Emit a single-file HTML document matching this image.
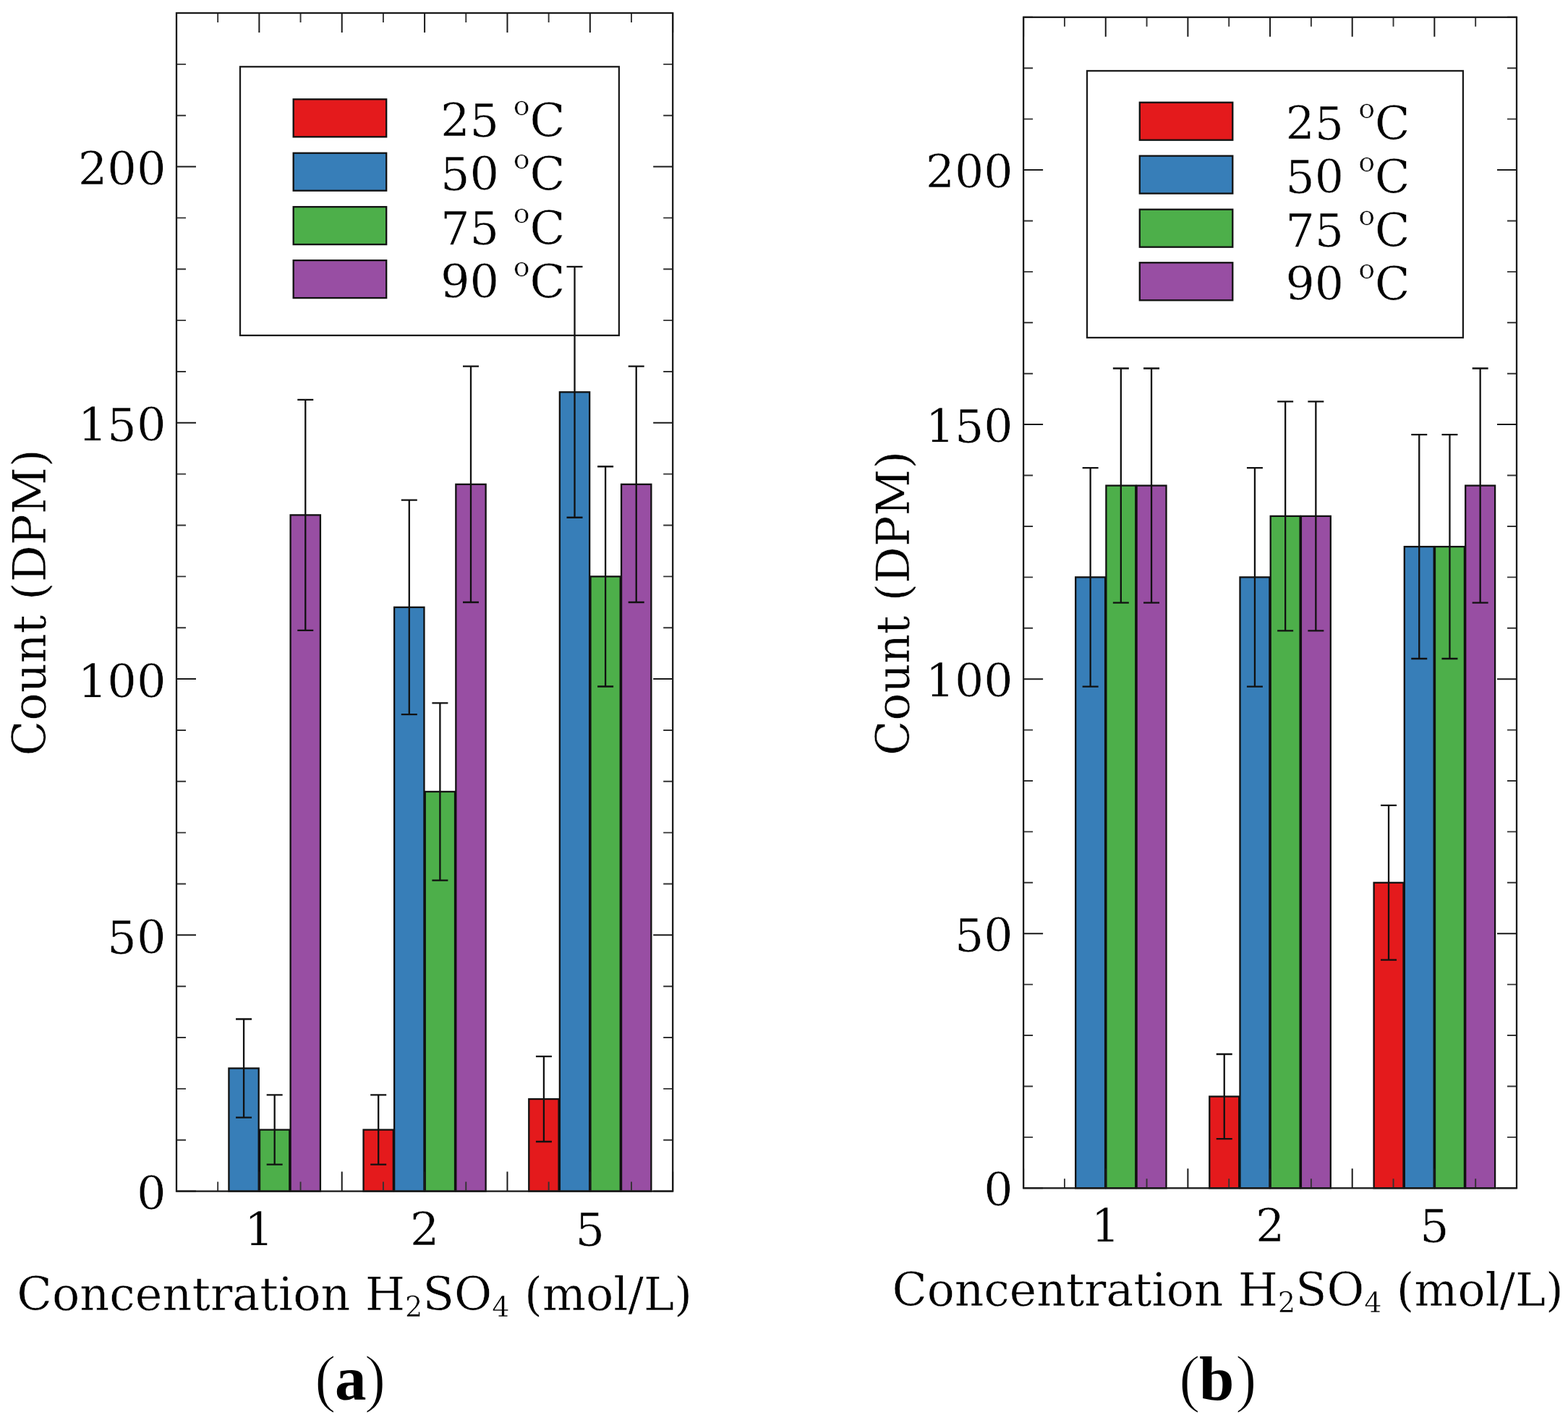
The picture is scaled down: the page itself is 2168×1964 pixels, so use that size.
<!DOCTYPE html>
<html><head><meta charset="utf-8"><title>Count (DPM) vs Concentration H2SO4</title>
<style>html,body{margin:0;padding:0;background:#fff;width:2168px;height:1964px;overflow:hidden}svg{display:block}</style>
</head><body>
<svg width="2168" height="1964" viewBox="0 0 2168 1964">
<rect width="2168" height="1964" fill="#fff"/>
<rect x="332.0" y="92.3" width="523.9" height="371.6" fill="#fff" stroke="#1a1a1a" stroke-width="2.3"/>
<rect x="405.7" y="137.3" width="128.5" height="52" fill="#e41a1c" stroke="#111" stroke-width="2.3"/>
<text x="608.9" y="188.80" font-family="DejaVu Serif, serif" stroke="#fff" stroke-width="0.5" font-size="63.8">25</text>
<text x="709.70" y="158.80" font-family="DejaVu Serif, serif" stroke="#fff" stroke-width="0.5" font-size="38">o</text>
<text x="732.40" y="188.80" font-family="DejaVu Serif, serif" stroke="#fff" stroke-width="0.5" font-size="63.8">C</text>
<rect x="405.7" y="211.7" width="128.5" height="52" fill="#377eb8" stroke="#111" stroke-width="2.3"/>
<text x="608.9" y="263.20" font-family="DejaVu Serif, serif" stroke="#fff" stroke-width="0.5" font-size="63.8">50</text>
<text x="709.70" y="233.20" font-family="DejaVu Serif, serif" stroke="#fff" stroke-width="0.5" font-size="38">o</text>
<text x="732.40" y="263.20" font-family="DejaVu Serif, serif" stroke="#fff" stroke-width="0.5" font-size="63.8">C</text>
<rect x="405.7" y="286.1" width="128.5" height="52" fill="#4daf4a" stroke="#111" stroke-width="2.3"/>
<text x="608.9" y="337.60" font-family="DejaVu Serif, serif" stroke="#fff" stroke-width="0.5" font-size="63.8">75</text>
<text x="709.70" y="307.60" font-family="DejaVu Serif, serif" stroke="#fff" stroke-width="0.5" font-size="38">o</text>
<text x="732.40" y="337.60" font-family="DejaVu Serif, serif" stroke="#fff" stroke-width="0.5" font-size="63.8">C</text>
<rect x="405.7" y="360.1" width="128.5" height="52" fill="#984ea3" stroke="#111" stroke-width="2.3"/>
<text x="608.9" y="411.60" font-family="DejaVu Serif, serif" stroke="#fff" stroke-width="0.5" font-size="63.8">90</text>
<text x="709.70" y="381.60" font-family="DejaVu Serif, serif" stroke="#fff" stroke-width="0.5" font-size="38">o</text>
<text x="732.40" y="411.60" font-family="DejaVu Serif, serif" stroke="#fff" stroke-width="0.5" font-size="63.8">C</text>
<rect x="316.42" y="1477.55" width="41.30" height="170.05" fill="#377eb8" stroke="#111" stroke-width="2.3"/>
<rect x="359.02" y="1562.58" width="41.30" height="85.02" fill="#4daf4a" stroke="#111" stroke-width="2.3"/>
<rect x="401.62" y="712.35" width="41.30" height="935.25" fill="#984ea3" stroke="#111" stroke-width="2.3"/>
<rect x="502.55" y="1562.58" width="41.30" height="85.02" fill="#e41a1c" stroke="#111" stroke-width="2.3"/>
<rect x="545.15" y="839.89" width="41.30" height="807.71" fill="#377eb8" stroke="#111" stroke-width="2.3"/>
<rect x="587.75" y="1094.95" width="41.30" height="552.65" fill="#4daf4a" stroke="#111" stroke-width="2.3"/>
<rect x="630.35" y="669.84" width="41.30" height="977.76" fill="#984ea3" stroke="#111" stroke-width="2.3"/>
<rect x="731.28" y="1520.07" width="41.30" height="127.53" fill="#e41a1c" stroke="#111" stroke-width="2.3"/>
<rect x="773.88" y="542.31" width="41.30" height="1105.29" fill="#377eb8" stroke="#111" stroke-width="2.3"/>
<rect x="816.48" y="797.37" width="41.30" height="850.23" fill="#4daf4a" stroke="#111" stroke-width="2.3"/>
<rect x="859.08" y="669.84" width="41.30" height="977.76" fill="#984ea3" stroke="#111" stroke-width="2.3"/>
<path d="M337.07 1409.52V1545.59M326.07 1409.52H348.07M326.07 1545.59H348.07" stroke="#111" stroke-width="2.3" fill="none"/>
<path d="M379.67 1514.47V1610.68M368.67 1514.47H390.67M368.67 1610.68H390.67" stroke="#111" stroke-width="2.3" fill="none"/>
<path d="M422.27 552.80V871.90M411.27 552.80H433.27M411.27 871.90H433.27" stroke="#111" stroke-width="2.3" fill="none"/>
<path d="M523.20 1514.47V1610.68M512.20 1514.47H534.20M512.20 1610.68H534.20" stroke="#111" stroke-width="2.3" fill="none"/>
<path d="M565.80 691.61V988.16M554.80 691.61H576.80M554.80 988.16H576.80" stroke="#111" stroke-width="2.3" fill="none"/>
<path d="M608.40 972.31V1217.60M597.40 972.31H619.40M597.40 1217.60H619.40" stroke="#111" stroke-width="2.3" fill="none"/>
<path d="M651.00 506.70V832.98M640.00 506.70H662.00M640.00 832.98H662.00" stroke="#111" stroke-width="2.3" fill="none"/>
<path d="M751.93 1461.15V1578.98M740.93 1461.15H762.93M740.93 1578.98H762.93" stroke="#111" stroke-width="2.3" fill="none"/>
<path d="M794.53 368.86V715.75M783.53 368.86H805.53M783.53 715.75H805.53" stroke="#111" stroke-width="2.3" fill="none"/>
<path d="M837.13 645.25V949.50M826.13 645.25H848.13M826.13 949.50H848.13" stroke="#111" stroke-width="2.3" fill="none"/>
<path d="M879.73 506.70V832.98M868.73 506.70H890.73M868.73 832.98H890.73" stroke="#111" stroke-width="2.3" fill="none"/>
<path d="M244.00 1647.60h27M930.20 1647.60h-27M244.00 1293.34h27M930.20 1293.34h-27M244.00 939.08h27M930.20 939.08h-27M244.00 584.82h27M930.20 584.82h-27M244.00 230.56h27M930.20 230.56h-27M244.00 1647.60v-27M244.00 18.00v27M358.37 1647.60v-27M358.37 18.00v27M472.73 1647.60v-27M472.73 18.00v27M587.10 1647.60v-27M587.10 18.00v27M701.47 1647.60v-27M701.47 18.00v27M815.83 1647.60v-27M815.83 18.00v27M930.20 1647.60v-27M930.20 18.00v27" stroke="#1a1a1a" stroke-width="2.0" fill="none"/>
<path d="M244.00 1576.75h13M930.20 1576.75h-13M244.00 1505.90h13M930.20 1505.90h-13M244.00 1435.04h13M930.20 1435.04h-13M244.00 1364.19h13M930.20 1364.19h-13M244.00 1222.49h13M930.20 1222.49h-13M244.00 1151.63h13M930.20 1151.63h-13M244.00 1080.78h13M930.20 1080.78h-13M244.00 1009.93h13M930.20 1009.93h-13M244.00 868.23h13M930.20 868.23h-13M244.00 797.37h13M930.20 797.37h-13M244.00 726.52h13M930.20 726.52h-13M244.00 655.67h13M930.20 655.67h-13M244.00 513.97h13M930.20 513.97h-13M244.00 443.11h13M930.20 443.11h-13M244.00 372.26h13M930.20 372.26h-13M244.00 301.41h13M930.20 301.41h-13M244.00 159.70h13M930.20 159.70h-13M244.00 88.85h13M930.20 88.85h-13M244.00 18.00h13M930.20 18.00h-13M301.18 1647.60v-13M301.18 18.00v13M415.55 1647.60v-13M415.55 18.00v13M529.92 1647.60v-13M529.92 18.00v13M644.28 1647.60v-13M644.28 18.00v13M758.65 1647.60v-13M758.65 18.00v13M873.02 1647.60v-13M873.02 18.00v13" stroke="#333" stroke-width="1.9" fill="none"/>
<rect x="244.00" y="18.00" width="686.20" height="1629.60" fill="none" stroke="#1a1a1a" stroke-width="2.3"/>
<text x="229.50" y="1673.10" text-anchor="end" font-family="DejaVu Serif, serif" stroke="#fff" stroke-width="0.5" font-size="63.8">0</text>
<text x="229.50" y="1318.84" text-anchor="end" font-family="DejaVu Serif, serif" stroke="#fff" stroke-width="0.5" font-size="63.8">50</text>
<text x="229.50" y="964.58" text-anchor="end" font-family="DejaVu Serif, serif" stroke="#fff" stroke-width="0.5" font-size="63.8">100</text>
<text x="229.50" y="610.32" text-anchor="end" font-family="DejaVu Serif, serif" stroke="#fff" stroke-width="0.5" font-size="63.8">150</text>
<text x="229.50" y="256.06" text-anchor="end" font-family="DejaVu Serif, serif" stroke="#fff" stroke-width="0.5" font-size="63.8">200</text>
<text x="358.37" y="1723.30" text-anchor="middle" font-family="DejaVu Serif, serif" stroke="#fff" stroke-width="0.5" font-size="63.8">1</text>
<text x="587.10" y="1723.30" text-anchor="middle" font-family="DejaVu Serif, serif" stroke="#fff" stroke-width="0.5" font-size="63.8">2</text>
<text x="815.83" y="1723.30" text-anchor="middle" font-family="DejaVu Serif, serif" stroke="#fff" stroke-width="0.5" font-size="63.8">5</text>
<text transform="translate(62.50 833.30) rotate(-90)" text-anchor="middle" font-family="DejaVu Serif, serif" stroke="#fff" stroke-width="0.5" font-size="63.8">Count (DPM)</text>
<text x="23.30" y="1811.90" font-family="DejaVu Serif, serif" stroke="#fff" stroke-width="0.5" font-size="63.6">Concentration H<tspan font-size="38.4" dy="9">2</tspan><tspan dy="-9">SO</tspan><tspan font-size="38.4" dy="9">4</tspan><tspan dy="-9"> (mol/L)</tspan></text>
<text y="1935.7" font-family="Liberation Serif, serif" font-size="87"><tspan x="435.1" stroke="#fff" stroke-width="1.6" font-size="89" dy="0.5">(</tspan><tspan x="462.9" dy="-0.5" font-weight="bold">a</tspan><tspan x="503.8" stroke="#fff" stroke-width="1.6" font-size="89" dy="0.5">)</tspan></text>
<rect x="1503.0" y="98.0" width="519.9" height="369.0" fill="#fff" stroke="#1a1a1a" stroke-width="2.3"/>
<rect x="1575.8" y="141.7" width="128.5" height="52" fill="#e41a1c" stroke="#111" stroke-width="2.3"/>
<text x="1777.4" y="193.20" font-family="DejaVu Serif, serif" stroke="#fff" stroke-width="0.5" font-size="63.3">25</text>
<text x="1878.20" y="163.20" font-family="DejaVu Serif, serif" stroke="#fff" stroke-width="0.5" font-size="38">o</text>
<text x="1900.90" y="193.20" font-family="DejaVu Serif, serif" stroke="#fff" stroke-width="0.5" font-size="63.3">C</text>
<rect x="1575.8" y="215.6" width="128.5" height="52" fill="#377eb8" stroke="#111" stroke-width="2.3"/>
<text x="1777.4" y="267.10" font-family="DejaVu Serif, serif" stroke="#fff" stroke-width="0.5" font-size="63.3">50</text>
<text x="1878.20" y="237.10" font-family="DejaVu Serif, serif" stroke="#fff" stroke-width="0.5" font-size="38">o</text>
<text x="1900.90" y="267.10" font-family="DejaVu Serif, serif" stroke="#fff" stroke-width="0.5" font-size="63.3">C</text>
<rect x="1575.8" y="289.7" width="128.5" height="52" fill="#4daf4a" stroke="#111" stroke-width="2.3"/>
<text x="1777.4" y="341.20" font-family="DejaVu Serif, serif" stroke="#fff" stroke-width="0.5" font-size="63.3">75</text>
<text x="1878.20" y="311.20" font-family="DejaVu Serif, serif" stroke="#fff" stroke-width="0.5" font-size="38">o</text>
<text x="1900.90" y="341.20" font-family="DejaVu Serif, serif" stroke="#fff" stroke-width="0.5" font-size="63.3">C</text>
<rect x="1575.8" y="363.3" width="128.5" height="52" fill="#984ea3" stroke="#111" stroke-width="2.3"/>
<text x="1777.4" y="414.80" font-family="DejaVu Serif, serif" stroke="#fff" stroke-width="0.5" font-size="63.3">90</text>
<text x="1878.20" y="384.80" font-family="DejaVu Serif, serif" stroke="#fff" stroke-width="0.5" font-size="38">o</text>
<text x="1900.90" y="414.80" font-family="DejaVu Serif, serif" stroke="#fff" stroke-width="0.5" font-size="63.3">C</text>
<rect x="1487.20" y="798.34" width="40.90" height="844.96" fill="#377eb8" stroke="#111" stroke-width="2.3"/>
<rect x="1529.40" y="671.60" width="40.90" height="971.70" fill="#4daf4a" stroke="#111" stroke-width="2.3"/>
<rect x="1571.60" y="671.60" width="40.90" height="971.70" fill="#984ea3" stroke="#111" stroke-width="2.3"/>
<rect x="1672.30" y="1516.56" width="40.90" height="126.74" fill="#e41a1c" stroke="#111" stroke-width="2.3"/>
<rect x="1714.50" y="798.34" width="40.90" height="844.96" fill="#377eb8" stroke="#111" stroke-width="2.3"/>
<rect x="1756.70" y="713.85" width="40.90" height="929.45" fill="#4daf4a" stroke="#111" stroke-width="2.3"/>
<rect x="1798.90" y="713.85" width="40.90" height="929.45" fill="#984ea3" stroke="#111" stroke-width="2.3"/>
<rect x="1899.60" y="1220.82" width="40.90" height="422.48" fill="#e41a1c" stroke="#111" stroke-width="2.3"/>
<rect x="1941.80" y="756.10" width="40.90" height="887.20" fill="#377eb8" stroke="#111" stroke-width="2.3"/>
<rect x="1984.00" y="756.10" width="40.90" height="887.20" fill="#4daf4a" stroke="#111" stroke-width="2.3"/>
<rect x="2026.20" y="671.60" width="40.90" height="971.70" fill="#984ea3" stroke="#111" stroke-width="2.3"/>
<path d="M1507.65 647.16V949.53M1496.65 647.16H1518.65M1496.65 949.53H1518.65" stroke="#111" stroke-width="2.3" fill="none"/>
<path d="M1549.85 509.48V833.72M1538.85 509.48H1560.85M1538.85 833.72H1560.85" stroke="#111" stroke-width="2.3" fill="none"/>
<path d="M1592.05 509.48V833.72M1581.05 509.48H1603.05M1581.05 833.72H1603.05" stroke="#111" stroke-width="2.3" fill="none"/>
<path d="M1692.75 1458.00V1575.11M1681.75 1458.00H1703.75M1681.75 1575.11H1703.75" stroke="#111" stroke-width="2.3" fill="none"/>
<path d="M1734.95 647.16V949.53M1723.95 647.16H1745.95M1723.95 949.53H1745.95" stroke="#111" stroke-width="2.3" fill="none"/>
<path d="M1777.15 555.29V872.41M1766.15 555.29H1788.15M1766.15 872.41H1788.15" stroke="#111" stroke-width="2.3" fill="none"/>
<path d="M1819.35 555.29V872.41M1808.35 555.29H1830.35M1808.35 872.41H1830.35" stroke="#111" stroke-width="2.3" fill="none"/>
<path d="M1920.05 1113.92V1327.72M1909.05 1113.92H1931.05M1909.05 1327.72H1931.05" stroke="#111" stroke-width="2.3" fill="none"/>
<path d="M1962.25 601.18V911.01M1951.25 601.18H1973.25M1951.25 911.01H1973.25" stroke="#111" stroke-width="2.3" fill="none"/>
<path d="M2004.45 601.18V911.01M1993.45 601.18H2015.45M1993.45 911.01H2015.45" stroke="#111" stroke-width="2.3" fill="none"/>
<path d="M2046.65 509.48V833.72M2035.65 509.48H2057.65M2035.65 833.72H2057.65" stroke="#111" stroke-width="2.3" fill="none"/>
<path d="M1415.10 1643.30h27M2097.00 1643.30h-27M1415.10 1291.23h27M2097.00 1291.23h-27M1415.10 939.17h27M2097.00 939.17h-27M1415.10 587.10h27M2097.00 587.10h-27M1415.10 235.04h27M2097.00 235.04h-27M1415.10 1643.30v-27M1415.10 23.80v27M1528.75 1643.30v-27M1528.75 23.80v27M1642.40 1643.30v-27M1642.40 23.80v27M1756.05 1643.30v-27M1756.05 23.80v27M1869.70 1643.30v-27M1869.70 23.80v27M1983.35 1643.30v-27M1983.35 23.80v27M2097.00 1643.30v-27M2097.00 23.80v27" stroke="#1a1a1a" stroke-width="2.0" fill="none"/>
<path d="M1415.10 1572.89h13M2097.00 1572.89h-13M1415.10 1502.47h13M2097.00 1502.47h-13M1415.10 1432.06h13M2097.00 1432.06h-13M1415.10 1361.65h13M2097.00 1361.65h-13M1415.10 1220.82h13M2097.00 1220.82h-13M1415.10 1150.41h13M2097.00 1150.41h-13M1415.10 1080.00h13M2097.00 1080.00h-13M1415.10 1009.58h13M2097.00 1009.58h-13M1415.10 868.76h13M2097.00 868.76h-13M1415.10 798.34h13M2097.00 798.34h-13M1415.10 727.93h13M2097.00 727.93h-13M1415.10 657.52h13M2097.00 657.52h-13M1415.10 516.69h13M2097.00 516.69h-13M1415.10 446.28h13M2097.00 446.28h-13M1415.10 375.87h13M2097.00 375.87h-13M1415.10 305.45h13M2097.00 305.45h-13M1415.10 164.63h13M2097.00 164.63h-13M1415.10 94.21h13M2097.00 94.21h-13M1415.10 23.80h13M2097.00 23.80h-13M1471.92 1643.30v-13M1471.92 23.80v13M1585.57 1643.30v-13M1585.57 23.80v13M1699.22 1643.30v-13M1699.22 23.80v13M1812.88 1643.30v-13M1812.88 23.80v13M1926.53 1643.30v-13M1926.53 23.80v13M2040.18 1643.30v-13M2040.18 23.80v13" stroke="#333" stroke-width="1.9" fill="none"/>
<rect x="1415.10" y="23.80" width="681.90" height="1619.50" fill="none" stroke="#1a1a1a" stroke-width="2.3"/>
<text x="1400.50" y="1668.30" text-anchor="end" font-family="DejaVu Serif, serif" stroke="#fff" stroke-width="0.5" font-size="63.3">0</text>
<text x="1400.50" y="1316.23" text-anchor="end" font-family="DejaVu Serif, serif" stroke="#fff" stroke-width="0.5" font-size="63.3">50</text>
<text x="1400.50" y="964.17" text-anchor="end" font-family="DejaVu Serif, serif" stroke="#fff" stroke-width="0.5" font-size="63.3">100</text>
<text x="1400.50" y="612.10" text-anchor="end" font-family="DejaVu Serif, serif" stroke="#fff" stroke-width="0.5" font-size="63.3">150</text>
<text x="1400.50" y="260.04" text-anchor="end" font-family="DejaVu Serif, serif" stroke="#fff" stroke-width="0.5" font-size="63.3">200</text>
<text x="1528.75" y="1717.60" text-anchor="middle" font-family="DejaVu Serif, serif" stroke="#fff" stroke-width="0.5" font-size="63.3">1</text>
<text x="1756.05" y="1717.60" text-anchor="middle" font-family="DejaVu Serif, serif" stroke="#fff" stroke-width="0.5" font-size="63.3">2</text>
<text x="1983.35" y="1717.60" text-anchor="middle" font-family="DejaVu Serif, serif" stroke="#fff" stroke-width="0.5" font-size="63.3">5</text>
<text transform="translate(1257.00 834.50) rotate(-90)" text-anchor="middle" font-family="DejaVu Serif, serif" stroke="#fff" stroke-width="0.5" font-size="63.3">Count (DPM)</text>
<text x="1233.40" y="1805.70" font-family="DejaVu Serif, serif" stroke="#fff" stroke-width="0.5" font-size="63.2">Concentration H<tspan font-size="38.4" dy="9">2</tspan><tspan dy="-9">SO</tspan><tspan font-size="38.4" dy="9">4</tspan><tspan dy="-9"> (mol/L)</tspan></text>
<text y="1935.7" font-family="Liberation Serif, serif" font-size="87"><tspan x="1629.9" stroke="#fff" stroke-width="1.6" font-size="89" dy="0.5">(</tspan><tspan x="1658.1" dy="-0.5" font-weight="bold">b</tspan><tspan x="1708.1" stroke="#fff" stroke-width="1.6" font-size="89" dy="0.5">)</tspan></text>
</svg>
</body></html>
